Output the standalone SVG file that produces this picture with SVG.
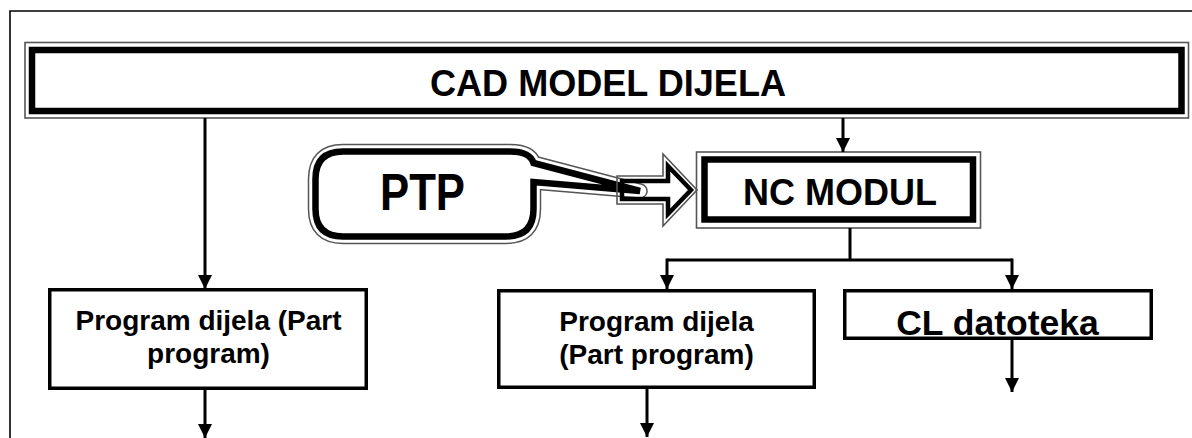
<svg xmlns="http://www.w3.org/2000/svg" width="1192" height="438" viewBox="0 0 1192 438">
<defs>
<marker id="ah" markerUnits="userSpaceOnUse" markerWidth="16" markerHeight="16" refX="14" refY="7" orient="auto">
<path d="M0,0 L14,7 L0,14 Z" fill="#000"/>
</marker>
<style>
.t{font-family:"Liberation Sans",Arial,sans-serif;font-weight:bold;fill:#000;text-anchor:middle}
.thin{fill:none;stroke:#555;stroke-width:1.6}
.thick{fill:#fff;stroke:#000;stroke-width:6.5}
.box{fill:#fff;stroke:#000;stroke-width:3.5}
.con{fill:none;stroke:#000;stroke-width:3}
</style>
</defs>
<rect width="1192" height="438" fill="#fff"/>
<path d="M10,440 V11 H1194" fill="none" stroke="#000" stroke-width="1.6"/>

<g id="cad">
<rect class="thin" x="25" y="42.5" width="1163.5" height="75.5"/>
<rect class="thick" x="32" y="50" width="1149.5" height="61"/>
<text class="t" x="608" y="96" font-size="36" textLength="356" lengthAdjust="spacingAndGlyphs">CAD MODEL DIJELA</text>
</g>

<g id="nc">
<rect class="thin" x="696.5" y="152" width="284" height="76"/>
<rect class="thick" x="704.5" y="159.5" width="268.5" height="60"/>
<text class="t" x="840" y="205" font-size="36" textLength="194" lengthAdjust="spacingAndGlyphs">NC MODUL</text>
</g>

<g id="ptp">
<path d="M343,151.5 H510 Q530,151.5 533.5,163 L640,191 L533.5,182 V209 Q533.5,236.5 506,236.5 H343 Q315.5,236.5 315.5,209 V179 Q315.5,151.5 343,151.5 Z" fill="none" stroke="#555" stroke-width="15.5" stroke-linejoin="round"/>
<path d="M343,151.5 H510 Q530,151.5 533.5,163 L640,191 L533.5,182 V209 Q533.5,236.5 506,236.5 H343 Q315.5,236.5 315.5,209 V179 Q315.5,151.5 343,151.5 Z" fill="#fff" stroke="#fff" stroke-width="12.5" stroke-linejoin="round"/>
<path d="M343,151.5 H510 Q530,151.5 533.5,163 L640,191 L533.5,182 V209 Q533.5,236.5 506,236.5 H343 Q315.5,236.5 315.5,209 V179 Q315.5,151.5 343,151.5 Z" fill="#fff" stroke="#000" stroke-width="6.5" stroke-linejoin="miter"/>
<text class="t" x="422.5" y="210" font-size="52" textLength="85" lengthAdjust="spacingAndGlyphs">PTP</text>
</g>

<g id="blockarrow">
<polygon points="617,176 663,176 663,154 697,190 663,226 663,204 617,204" fill="none" stroke="#555" stroke-width="1.6"/>
<polygon points="622,181 668,181 668,166 691,190 668,214 668,199 622,199" fill="none" stroke="#000" stroke-width="4.5"/>
</g>

<g id="part1">
<rect class="box" x="49.75" y="289.75" width="316.5" height="98.5"/>
<text class="t" x="208.5" y="330" font-size="28">Program dijela (Part</text>
<text class="t" x="208.5" y="363" font-size="28">program)</text>
</g>

<g id="part2">
<rect class="box" x="498.75" y="290.75" width="315.5" height="96.5"/>
<text class="t" x="656.5" y="331" font-size="28">Program dijela</text>
<text class="t" x="656.5" y="364" font-size="28">(Part program)</text>
</g>

<g id="cl">
<rect class="box" x="844.75" y="290.75" width="306.5" height="47.5"/>
<text class="t" x="997.5" y="335" font-size="35.5">CL datoteka</text>
</g>

<g id="connectors">
<path class="con" d="M205,118 V289" marker-end="url(#ah)"/>
<path class="con" d="M205,390 V438" marker-end="url(#ah)"/>
<path class="con" d="M843,118 V152" marker-end="url(#ah)"/>
<path class="con" d="M850,228 V260"/>
<path class="con" d="M667,260 H1012"/>
<path class="con" d="M667,258.5 V289" marker-end="url(#ah)"/>
<path class="con" d="M1012,258.5 V289" marker-end="url(#ah)"/>
<path class="con" d="M647,389 V437" marker-end="url(#ah)"/>
<path class="con" d="M1012,340 V392" marker-end="url(#ah)"/>
</g>
</svg>
